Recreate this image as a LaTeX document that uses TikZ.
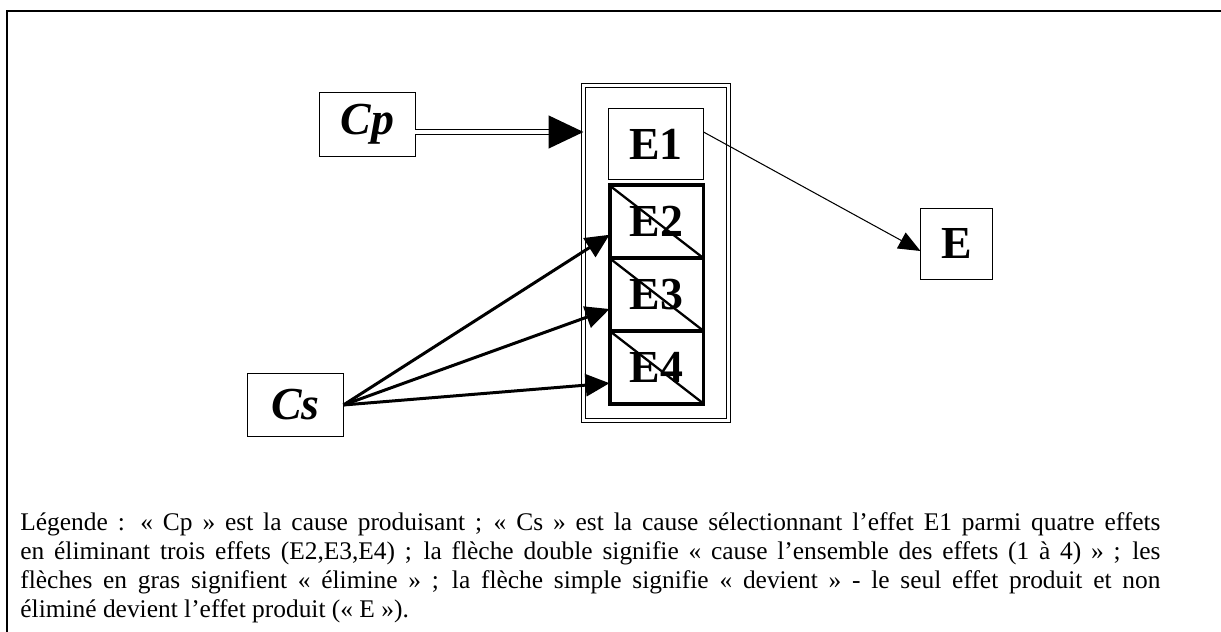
\documentclass[tikz,border=0pt]{standalone}
\usepackage{fontspec}
\setmainfont{Liberation Serif}
\usetikzlibrary{arrows.meta,calc}
\begin{document}
\begin{tikzpicture}[x=0.48pt,y=-0.48pt,
  box/.style={draw, line width=0.72pt, inner sep=0pt, outer sep=0pt},
  causebox/.style={box, font=\fontsize{22}{26}\selectfont\bfseries\itshape},
  effbox/.style={box, font=\fontsize{22}{26}\selectfont\bfseries},
  elimbox/.style={effbox, line width=1.9pt, minimum width=45.1pt, minimum height=34.9pt},
  container/.style={draw, double, double distance=1.2pt, line width=0.62pt, inner sep=0pt, outer sep=0pt},
  dblarrow/.style={draw, double, double distance=1.68pt, line width=0.72pt, -{Triangle[length=16.8pt,width=15.8pt]}},
  elimarrow/.style={line width=1.44pt, -{Triangle[length=11.5pt,width=10.6pt]}},
  simplearrow/.style={line width=0.5pt, -{Triangle[length=10.5pt,width=8.6pt]}},
  cross/.style={line width=1.1pt},
  legend/.style={anchor=base west, inner sep=0pt, font=\fontsize{12.2}{14}\selectfont}
]
\useasboundingbox (0,0) rectangle (1221,632);
% frame
\draw[line width=0.96pt] (7,632) -- (7,11) -- (1221,11);

% nodes
\node[causebox, minimum width=46pt, minimum height=30.7pt] (Cp) at (367.5,124.5) {Cp};
\node[causebox, minimum width=46pt, minimum height=30.2pt] (Cs) at (295.5,405) {Cs};
\node[container, minimum width=69.6pt, minimum height=160.8pt] (cont) at (656,253) {};
\node[effbox, line width=0.62pt, minimum width=45.6pt, minimum height=34.1pt] (E1) at (656,144) {E1};
\node[elimbox] (E2) at (656.5,221.8) {E2};
\node[elimbox] (E3) at (656.5,294.5) {E3};
\node[elimbox] (E4) at (656.5,367.2) {E4};
\node[effbox, minimum width=34.6pt, minimum height=34.1pt] (E) at (956.5,244) {E};

% crossings
\draw[cross] (E2.north west) -- (E2.south east);
\draw[cross] (E3.north west) -- (E3.south east);
\draw[cross] (E4.north west) -- (E4.south east);

% connectors
\coordinate (cpa) at (cont.west |- 0,132);
\draw[dblarrow] (Cp.east |- cpa) -- (cpa);
\draw[elimarrow] (Cs.east) -- ($(E2.west)+(0,13)$);
\draw[elimarrow] (Cs.east) -- ($(E3.west)+(0,14.5)$);
\draw[elimarrow] (Cs.east) -- ($(E4.west)+(0,16)$);
\draw[simplearrow] ($(E1.east)+(0,-12)$) -- ($(E.west)+(0,7)$);

% legend
\node[legend] (leg1) at (20,530.5) {\makebox[547.2pt][s]{Légende : «~Cp~» est la cause produisant ; «~Cs~» est la cause sélectionnant l’effet E1 parmi quatre effets}};
\node[legend] (leg2) at (20,559.5) {\makebox[547.2pt][s]{en éliminant trois effets (E2,E3,E4) ; la flèche double signifie «~cause l’ensemble des effets (1 à 4)~» ; les}};
\node[legend] (leg3) at (20,588.5) {\makebox[547.2pt][s]{flèches en gras signifient «~élimine~» ; la flèche simple signifie «~devient~» - le seul effet produit et non}};
\node[legend] (leg4) at (20,617.5) {éliminé devient l’effet produit («~E~»).};
\end{tikzpicture}
\end{document}
